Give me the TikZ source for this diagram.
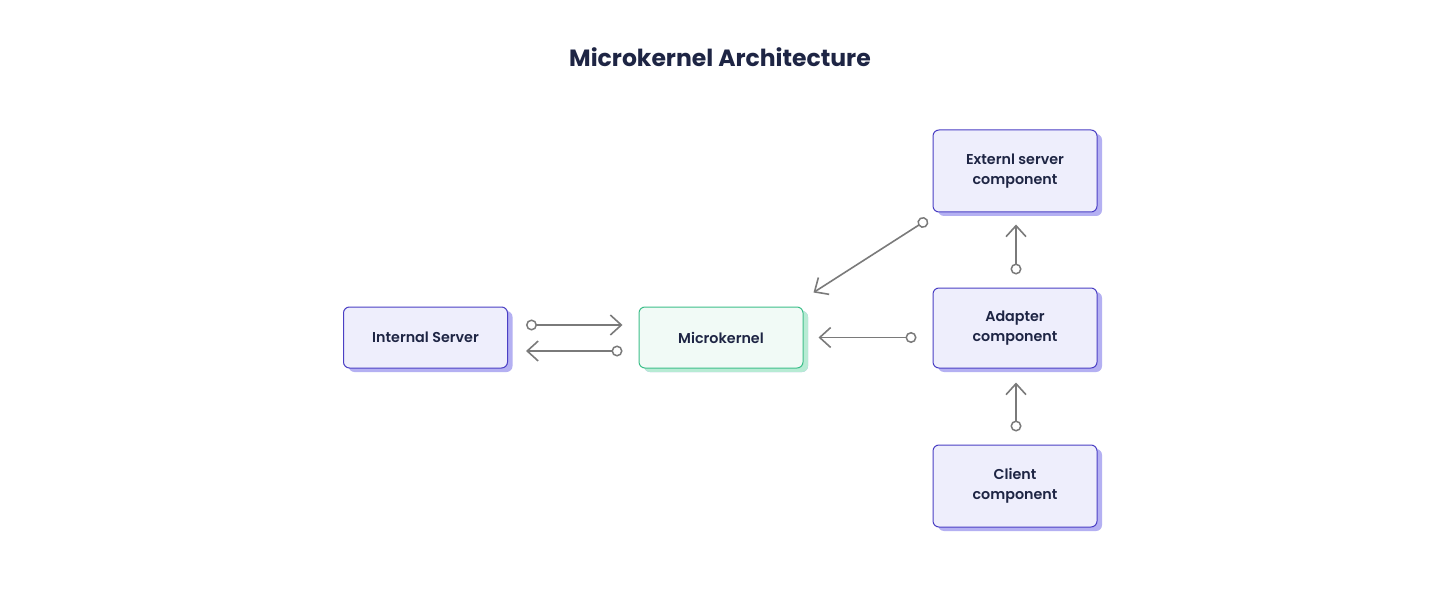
\documentclass[tikz,border=0pt]{standalone}
\usepackage{fontspec}
\setmainfont{Poppins}[UprightFont={* Medium}, BoldFont={* Bold}]
\newfontfamily\semifont{Poppins SemiBold}
\usetikzlibrary{arrows.meta,shadows,calc}
\definecolor{txt}{HTML}{1E2544}
\definecolor{bfill}{HTML}{EEEEFC}
\definecolor{bdraw}{HTML}{4A3FC4}
\definecolor{bshadow}{HTML}{B4B0F2}
\definecolor{gfill}{HTML}{F1FAF6}
\definecolor{gdraw}{HTML}{3DBF8A}
\definecolor{gshadow}{HTML}{B7EBD4}
\definecolor{conn}{HTML}{7A7A7A}
\tikzset{
  comp/.style={draw=bdraw, fill=bfill, rounded corners=6pt, line width=1pt,
    text=txt, font=\semifont\fontsize{14.3}{20}\selectfont, align=center,
    minimum width=164pt, inner sep=0pt,
    drop shadow={shadow xshift=5pt, shadow yshift=-4pt, fill=bshadow, opacity=1}},
  kern/.style={comp, draw=gdraw, fill=gfill,
    drop shadow={shadow xshift=5pt, shadow yshift=-4pt, fill=gshadow, opacity=1}},
  link/.style={draw=conn, line width=1.6pt,
    {Circle[open, length=11pt, width=11pt, fill=white, line width=1.5pt]}-{Straight Barb[length=11pt, width=20pt, line width=1.6pt]}}
}
\begin{document}
\begin{tikzpicture}[x=1pt,y=-1pt]
\useasboundingbox[fill=white] (0,0) rectangle (1440,596);
\node[text=txt, font=\fontsize{23.5}{28}\selectfont\bfseries] (title) at (720,57) {Microkernel Architecture};
\node[comp, minimum height=61pt] (int) at (425.5,337.5) {Internal Server};
\node[kern, minimum height=61pt] (mk) at (721,337.5) {Microkernel};
\node[comp, minimum height=82pt] (ext) at (1015,171) {Externl server\\component};
\node[comp, minimum height=80pt] (adp) at (1015,328) {Adapter\\component};
\node[comp, minimum height=82pt] (cli) at (1015,486) {Client\\component};
\draw[link, shorten <=18pt, shorten >=16pt] ([yshift=12.5pt]int.east) -- ([yshift=12.5pt]mk.west);
\draw[link, shorten <=16pt, shorten >=18pt] ([yshift=-13.5pt]mk.west) -- ([yshift=-13.5pt]int.east);
\draw[link, shorten <=16pt, shorten >=15pt] ([yshift=-9.5pt]adp.west) -- (mk.east);
\draw[link, shorten <=13pt, shorten >=12pt] ([xshift=1pt]adp.north) -- ([xshift=1pt]ext.south);
\draw[link, shorten <=13pt, shorten >=14pt] ([xshift=1pt]cli.north) -- ([xshift=1pt]adp.south);
\coordinate (dA) at ($(ext.south west)+(-5,7)$);
\coordinate (dB) at ($(mk.north east)+(10,-14)$);
\draw[link] (dA) -- (dB);
\end{tikzpicture}
\end{document}
